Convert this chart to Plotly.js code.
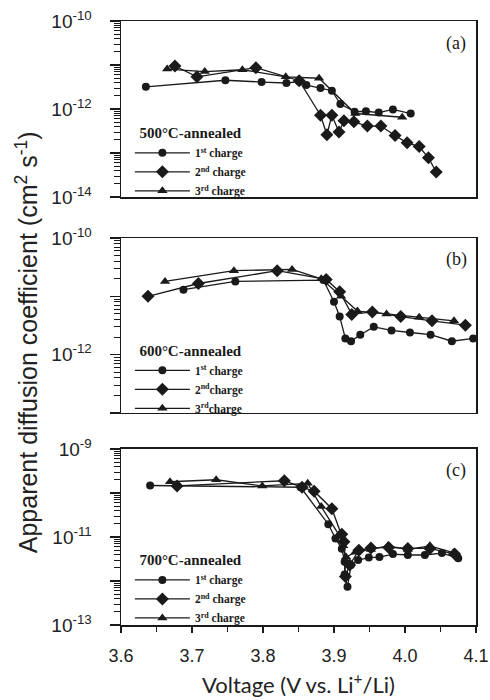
<!DOCTYPE html>
<html>
<head>
<meta charset="utf-8">
<script src="https://cdn.plot.ly/plotly-3.0.1.min.js"></script>
<style>html,body{margin:0;padding:0;background:#fff;}#chart{width:490px;height:700px;}</style>
</head>
<body>
<div id="chart"></div>
<script>
// ---- data (voltage in V, diffusion coefficient in cm^2 s^-1) ----
// (a) 500 C-annealed
var a1_v = [3.635,3.747,3.798,3.833,3.851,3.861,3.881,3.897,3.909,3.929,3.945,3.963,3.983,4.008];
var a1_d = [3.2e-12,4.5e-12,4.1e-12,3.9e-12,4.2e-12,3.5e-12,3.0e-12,2.6e-12,1.3e-12,8.7e-13,8.9e-13,8.3e-13,9.8e-13,7.9e-13];
var a2_v = [3.676,3.707,3.790,3.851,3.881,3.890,3.897,3.907,3.914,3.928,3.947,3.966,3.986,4.003,4.020,4.033,4.044];
var a2_d = [9.5e-12,5.4e-12,8.7e-12,4.4e-12,7.2e-13,2.6e-13,7.2e-13,3.0e-13,5.4e-13,5.1e-13,4.1e-13,4.1e-13,2.5e-13,1.7e-13,1.4e-13,7.8e-14,3.7e-14];
var a3_v = [3.665,3.718,3.771,3.832,3.879,3.930,3.996];
var a3_d = [8.1e-12,7.1e-12,7.8e-12,5.4e-12,5.0e-12,7.9e-13,6.5e-13];
// (b) 600 C-annealed
var b1_v = [3.688,3.761,3.885,3.900,3.908,3.916,3.924,3.937,3.956,3.981,4.007,4.036,4.066,4.096];
var b1_d = [1.3e-11,1.8e-11,1.9e-11,8.1e-12,4.5e-12,1.9e-12,1.7e-12,2.2e-12,3.0e-12,2.6e-12,2.4e-12,2.2e-12,1.7e-12,1.9e-12];
var b2_v = [3.638,3.709,3.820,3.889,3.908,3.925,3.954,3.994,4.038,4.085];
var b2_d = [1.0e-11,1.66e-11,2.75e-11,1.95e-11,1.2e-11,4.9e-12,5.4e-12,4.5e-12,3.8e-12,3.2e-12];
var b3_v = [3.662,3.759,3.841,3.882,3.910,3.933,3.974,4.020,4.069];
var b3_d = [1.8e-11,2.75e-11,2.9e-11,2.0e-11,1.0e-11,5.6e-12,5.0e-12,4.4e-12,3.8e-12];
// (c) 700 C-annealed
var c1_v = [3.641,3.853,3.892,3.902,3.911,3.915,3.915,3.919,3.924,3.934,3.949,3.964,3.983,4.004,4.028,4.052,4.075];
var c1_d = [1.48e-10,1.35e-10,1.95e-11,9.3e-12,5.4e-12,2.75e-12,1.4e-12,7.4e-13,2.3e-12,3.0e-12,3.4e-12,3.5e-12,4.1e-12,3.9e-12,3.9e-12,4.3e-12,3.3e-12];
var c2_v = [3.679,3.830,3.855,3.872,3.897,3.911,3.914,3.916,3.922,3.935,3.952,3.977,4.004,4.035,4.070];
var c2_d = [1.45e-10,1.9e-10,1.35e-10,1.1e-10,4.4e-11,1.15e-11,7.8e-12,1.26e-12,2.3e-12,5.0e-12,5.6e-12,5.8e-12,5.5e-12,5.5e-12,4.1e-12];
var c3_v = [3.669,3.734,3.799,3.863,3.882,3.907,3.913,3.917,3.930,3.952,3.976,4.004,4.035,4.068];
var c3_d = [1.8e-10,2.0e-10,1.45e-10,1.66e-10,4.9e-11,1.12e-11,6.3e-12,3.5e-12,4.5e-12,5.2e-12,6.3e-12,5.2e-12,6.3e-12,4.4e-12];

var seriesNames = ['1<sup>st</sup> charge','2<sup>nd</sup> charge','3<sup>rd</sup> charge'];
var seriesNamesB = ['1<sup>st</sup> charge','2<sup>nd</sup>charge','3<sup>rd</sup>charge'];
var panelTitles = ['500\u00b0C-annealed','600\u00b0C-annealed','700\u00b0C-annealed'];
var panelLabels = ['(a)','(b)','(c)'];

var ink = '#1a1a1a';
var symbols = ['circle','diamond','triangle-up'];
var msizes = [8,10,9];

function mk(x, y, k, axisIdx, names){
  var sfx = axisIdx === 1 ? '' : String(axisIdx);
  return {
    x: x, y: y, type: 'scatter', mode: 'lines+markers',
    name: names[k],
    xaxis: 'x' + sfx, yaxis: 'y' + sfx,
    legend: 'legend' + sfx,
    line: {color: ink, width: 1.3},
    marker: {symbol: symbols[k], size: msizes[k], color: ink}
  };
}

var data = [
  mk(a1_v,a1_d,0,1,seriesNames), mk(a2_v,a2_d,1,1,seriesNames), mk(a3_v,a3_d,2,1,seriesNames),
  mk(b1_v,b1_d,0,2,seriesNamesB), mk(b2_v,b2_d,1,2,seriesNamesB), mk(b3_v,b3_d,2,2,seriesNamesB),
  mk(c1_v,c1_d,0,3,seriesNames), mk(c2_v,c2_d,1,3,seriesNames), mk(c3_v,c3_d,2,3,seriesNames)
];
// empty helper traces so the tick-only overlay axes are drawn
[['x','y4'],['x2','y5'],['x4','y6']].forEach(function(p){
  data.push({x: [], y: [], type: 'scatter', mode: 'markers', xaxis: p[0], yaxis: p[1], showlegend: false, hoverinfo: 'skip'});
});

function logMinor(lo, hi){
  var v = [];
  for (var e = lo; e < hi; e++) for (var m = 2; m <= 9; m++) v.push(m * Math.pow(10, e));
  return v;
}

function xax(anchor, showLabels){
  var ax = {
    anchor: anchor, range: [3.6, 4.1], showgrid: false, zeroline: false,
    showline: true, linecolor: ink, linewidth: 1.5, mirror: true,
    showticklabels: showLabels
  };
  if (showLabels) {
    Object.assign(ax, {
      tickmode: 'linear', tick0: 3.6, dtick: 0.1, tickformat: '.1f',
      ticks: 'outside', ticklen: 6, tickcolor: ink, tickwidth: 1.3,
      ticklabelstandoff: 8,
      tickfont: {family: 'Liberation Sans, Arial, sans-serif', size: 18, color: '#222'}
    });
  } else {
    ax.ticks = '';
  }
  return ax;
}
function yax(domain, range, vals, txt){
  return {
    domain: domain, type: 'log', range: range, showgrid: false, zeroline: false,
    showline: true, linecolor: ink, linewidth: 1.5, mirror: true,
    tickmode: 'array', tickvals: vals, ticktext: txt,
    ticks: 'outside', ticklen: 10, tickcolor: ink, tickwidth: 1.3,
    ticklabelstandoff: 14,
    tickfont: {family: 'Liberation Sans, Arial, sans-serif', size: 19, color: '#222'}
  };
}
function yMinor(over, anchor, range){
  return {
    overlaying: over, anchor: anchor, side: 'left', type: 'log', range: range,
    showgrid: false, zeroline: false, showline: false, showticklabels: false,
    tickmode: 'array', tickvals: logMinor(range[0], range[1]),
    ticks: 'outside', ticklen: 6, tickcolor: ink, tickwidth: 1
  };
}
function leg(y, title){
  return {
    x: 0.025, xanchor: 'left', y: y, yanchor: 'top',
    bgcolor: 'rgba(0,0,0,0)', borderwidth: 0,
    itemwidth: 55, tracegroupgap: 0,
    title: {text: '<b>\u00a0\u00a0' + title + '</b>', side: 'top', font: {family: 'Liberation Serif, Times New Roman, serif', size: 15, color: ink}},
    font: {family: 'Liberation Serif, Times New Roman, serif', size: 11.5, color: ink, weight: 'bold'}
  };
}
function lab(i, sfx){
  return {
    text: panelLabels[i], xref: 'x' + sfx + ' domain', yref: 'y' + sfx + ' domain',
    x: 0.945, y: 0.875, xanchor: 'center', yanchor: 'middle', showarrow: false,
    font: {family: 'Liberation Serif, Times New Roman, serif', size: 18, color: ink}
  };
}

var layout = {
  width: 490, height: 700,
  margin: {l: 121, r: 14, t: 21, b: 75},
  paper_bgcolor: '#fff', plot_bgcolor: '#fff',
  showlegend: true,
  xaxis: xax('y', false),
  xaxis2: xax('y2', false),
  xaxis3: Object.assign(xax('y3', true), {
    title: {text: 'Voltage (V vs. Li<sup>+</sup>/Li)', standoff: 12,
            font: {family: 'Lato, Open Sans, sans-serif', size: 22, color: '#222'}}
  }),
  xaxis4: {
    overlaying: 'x3', anchor: 'y3', side: 'bottom', range: [3.6, 4.1],
    showgrid: false, zeroline: false, showline: false, showticklabels: false,
    tickmode: 'array', tickvals: [3.65, 3.75, 3.85, 3.95, 4.05],
    ticks: 'outside', ticklen: 6, tickcolor: ink, tickwidth: 1.3
  },
  yaxis: yax([0.7086, 1.0], [-14, -10], [1e-10,1e-11,1e-12,1e-13,1e-14], ['10<sup>-10</sup>','','10<sup>-12</sup>','','10<sup>-14</sup>']),
  yaxis2: yax([0.3510, 0.6407], [-13, -10], [1e-10,1e-11,1e-12,1e-13], ['10<sup>-10</sup>','','10<sup>-12</sup>','']),
  yaxis3: yax([0.0, 0.2914], [-13, -9], [1e-9,1e-10,1e-11,1e-12,1e-13], ['10<sup>-9</sup>','','10<sup>-11</sup>','','10<sup>-13</sup>']),
  yaxis4: yMinor('y', 'x', [-14, -10]),
  yaxis5: yMinor('y2', 'x2', [-13, -10]),
  yaxis6: yMinor('y3', 'x4', [-13, -9]),
  legend: leg(0.838, panelTitles[0]),
  legend2: leg(0.478, panelTitles[1]),
  legend3: leg(0.131, panelTitles[2]),
  annotations: [
    lab(0, ''), lab(1, '2'), lab(2, '3'),
    {text: 'Apparent diffusion coefficient (cm<sup>2</sup> s<sup>-1</sup>)', textangle: -90,
     xref: 'paper', yref: 'paper', x: -0.265, y: 0.468, xanchor: 'center', yanchor: 'middle',
     showarrow: false, font: {family: 'Liberation Sans, Arial, sans-serif', size: 25, color: '#222'}}
  ]
};

Plotly.newPlot('chart', data, layout, {displayModeBar: false, staticPlot: true});
</script>
</body>
</html>
